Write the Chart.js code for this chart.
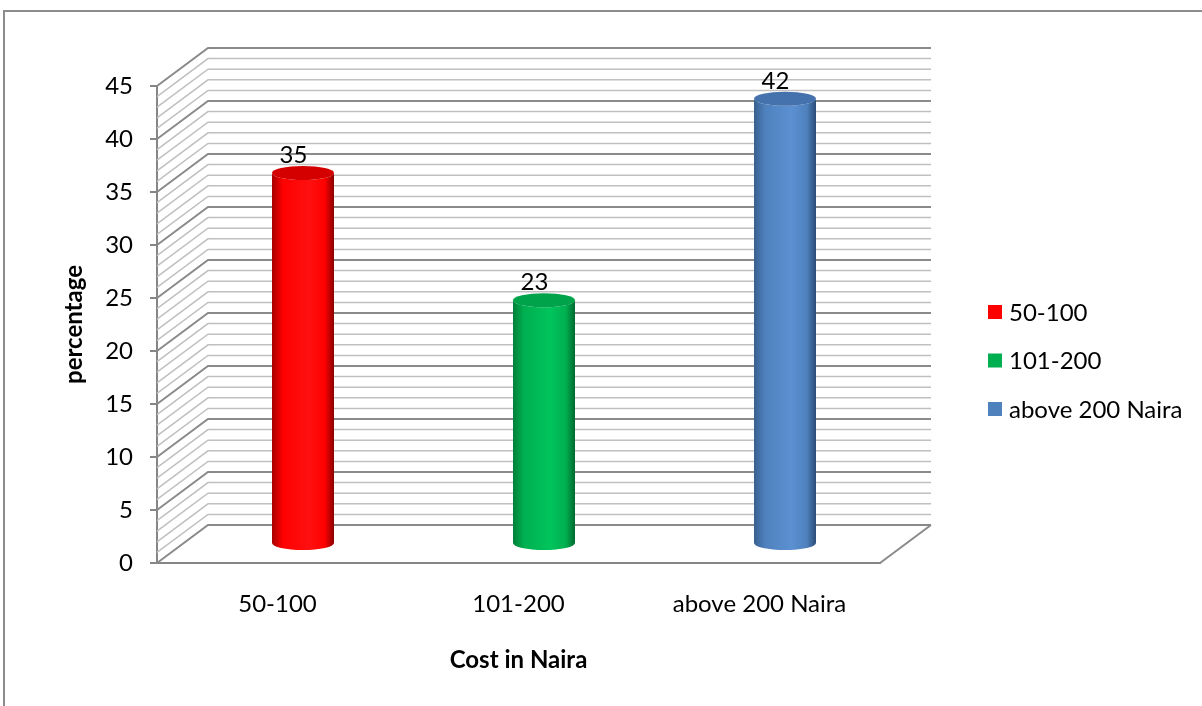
<!DOCTYPE html>
<html>
<head>
<meta charset="utf-8">
<title>Cost in Naira</title>
<script src="https://cdn.jsdelivr.net/npm/chart.js@4.4.1/dist/chart.umd.min.js"></script>
<style>
  html, body { margin: 0; padding: 0; background: #fff; overflow: hidden; }
  #wrap { width: 1202px; height: 706px; position: relative; }
</style>
</head>
<body>
<div id="wrap"><canvas id="costChart"></canvas></div>
<script>
// --- dados ---
const categories = ['50-100', '101-200', 'above 200 Naira'];
const percentages = [35, 23, 42];
const yMin = 0;
const yMax = 45;
const yStep = 5;      // linhas principais
const yMinorStep = 1; // linhas finas da parede do fundo

// cores (base, escuro, claro, tampa)
const barColors = ['#ff0000', '#00b050', '#4f81bd'];
const barShades = [
    { dark: '#a80000', light: '#ff1010', edge: '#8a0000', cap: '#d40000' },
    { dark: '#00803a', light: '#00c45c', edge: '#006a30', cap: '#00a24a' },
    { dark: '#36608f', light: '#5b90d2', edge: '#2c4d78', cap: '#4572ac' }
];

Chart.defaults.font.family = "Lato, 'Open Sans', sans-serif";
Chart.defaults.color = '#000';

// profundidade do "3D"
const DX = 51;
const DY = -38;
const gridMajor = '#8a8a8a';
const gridMinor = '#c0c0c0';

const box3d = {
    id: 'box3d',
    beforeDatasetsDraw(chart) {
        const { ctx, chartArea: a, scales: { y } } = chart;
        ctx.save();
        // parede do fundo + parede lateral
        for (let v = yMin; v <= yMax; v += yMinorStep) {
            const py = y.getPixelForValue(v);
            const major = v % yStep === 0;
            ctx.strokeStyle = major ? gridMajor : gridMinor;
            ctx.lineWidth = major ? 2 : 1.5;
            ctx.beginPath();
            ctx.moveTo(a.left, py);
            ctx.lineTo(a.left + DX, py + DY);
            ctx.lineTo(a.right + DX, py + DY);
            ctx.stroke();
        }
        // borda direita do chão
        ctx.strokeStyle = gridMajor;
        ctx.lineWidth = 2;
        ctx.beginPath();
        ctx.moveTo(a.right, a.bottom);
        ctx.lineTo(a.right + DX, a.bottom + DY);
        ctx.stroke();
        ctx.restore();
    },
    afterDatasetsDraw(chart) {
        const { ctx } = chart;
        const meta = chart.getDatasetMeta(0);
        ctx.save();
        meta.data.forEach((el, i) => {
            const p = el.getProps(['x', 'y', 'base', 'width'], true);
            const sh = barShades[i];
            const cx = p.x + DX / 2;
            const rx = p.width / 2;
            const ry = 7;
            const left = cx - rx, right = cx + rx;
            const topY = p.y + DY / 2;
            const botY = p.base + DY / 2;

            const g = ctx.createLinearGradient(left, 0, right, 0);
            g.addColorStop(0, sh.dark);
            g.addColorStop(0.18, barColors[i]);
            g.addColorStop(0.6, sh.light);
            g.addColorStop(0.85, barColors[i]);
            g.addColorStop(1, sh.edge);

            // corpo do cilindro
            ctx.beginPath();
            ctx.moveTo(left, topY);
            ctx.lineTo(left, botY);
            ctx.ellipse(cx, botY, rx, ry, 0, Math.PI, 0, true);
            ctx.lineTo(right, topY);
            ctx.ellipse(cx, topY, rx, ry, 0, 0, Math.PI, false);
            ctx.closePath();
            ctx.fillStyle = g;
            ctx.fill();

            // tampa
            ctx.beginPath();
            ctx.ellipse(cx, topY, rx, ry, 0, 0, Math.PI * 2);
            ctx.fillStyle = sh.cap;
            ctx.fill();

            // rótulo de valor
            ctx.fillStyle = '#000';
            ctx.font = "24px Lato, 'Open Sans', sans-serif";
            ctx.textAlign = 'center';
            ctx.textBaseline = 'middle';
            ctx.fillText(String(percentages[i]), p.x + 16, p.y - 37);
        });
        ctx.restore();
    },
    afterDraw(chart) {
        const { ctx } = chart;
        ctx.save();
        // legenda
        const legendTop = 312;
        const legendGap = 48.5;
        ctx.font = "24px Lato, 'Open Sans', sans-serif";
        ctx.textAlign = 'left';
        ctx.textBaseline = 'middle';
        categories.forEach((c, i) => {
            const cy = legendTop + i * legendGap;
            ctx.fillStyle = barColors[i];
            ctx.fillRect(988, cy - 7, 14, 14);
            ctx.fillStyle = '#000';
            ctx.fillText(c, 1009, cy + 1);
        });
        // moldura externa
        ctx.strokeStyle = '#8c8c8c';
        ctx.lineWidth = 2;
        ctx.beginPath();
        ctx.moveTo(4, chart.height);
        ctx.lineTo(4, 11);
        ctx.lineTo(chart.width, 11);
        ctx.stroke();
        ctx.restore();
    }
};

const ctxCost = document.getElementById('costChart').getContext('2d');
const costChart = new Chart(ctxCost, {
    type: 'bar',
    data: {
        labels: categories,
        datasets: [{
            label: 'percentage',
            data: percentages,
            backgroundColor: 'rgba(0,0,0,0)', // desenhado pelo plugin como cilindro
            borderWidth: 0,
            barThickness: 62
        }]
    },
    options: {
        responsive: true,
        maintainAspectRatio: false,
        animation: false,
        layout: { padding: { top: 86, right: 322, bottom: 0, left: 0 } },
        plugins: {
            legend: { display: false },
            tooltip: { enabled: false }
        },
        scales: {
            x: {
                afterFit: (scale) => { scale.height = 143; },
                grid: { display: false, drawTicks: false },
                border: { display: true, color: '#868686', width: 2 },
                ticks: { font: { size: 24 }, padding: 27, color: '#000', maxRotation: 0 },
                title: {
                    display: true,
                    text: 'Cost in Naira',
                    font: { size: 24, weight: 'bold' },
                    color: '#000',
                    padding: { top: 0, bottom: 31 }
                }
            },
            y: {
                min: yMin,
                max: yMax,
                afterFit: (scale) => { scale.width = 157; },
                grid: { display: true, drawOnChartArea: false, drawTicks: true, tickLength: 7, color: '#868686', lineWidth: 2 },
                border: { display: true, color: '#868686', width: 2 },
                ticks: { stepSize: yStep, font: { size: 24 }, padding: 17, color: '#000' },
                title: {
                    display: true,
                    text: 'percentage',
                    font: { size: 24, weight: 'bold' },
                    color: '#000',
                    padding: { top: 60, bottom: 0 }
                }
            }
        }
    },
    plugins: [box3d]
});
</script>
</body>
</html>
